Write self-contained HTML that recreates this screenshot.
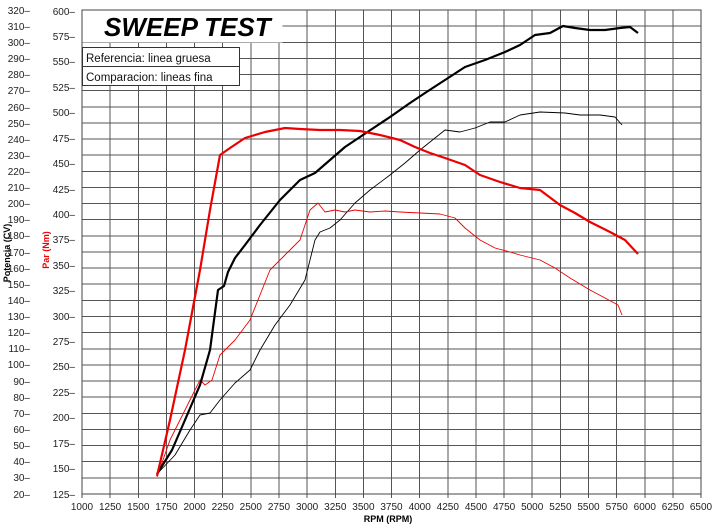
<!DOCTYPE html>
<html><head><meta charset="utf-8"><style>
body{margin:0;background:#fff;width:714px;height:529px;overflow:hidden}
svg{display:block}
text{font-family:"Liberation Sans",sans-serif;font-size:10px;fill:#222}
</style></head><body>
<svg width="714" height="529" viewBox="0 0 714 529">
<g stroke="#555" stroke-width="1" shape-rendering="crispEdges">
<line x1="82" y1="26.1" x2="701" y2="26.1"/><line x1="82" y1="42.3" x2="701" y2="42.3"/><line x1="82" y1="58.4" x2="701" y2="58.4"/><line x1="82" y1="74.5" x2="701" y2="74.5"/><line x1="82" y1="90.7" x2="701" y2="90.7"/><line x1="82" y1="106.8" x2="701" y2="106.8"/><line x1="82" y1="122.9" x2="701" y2="122.9"/><line x1="82" y1="139" x2="701" y2="139"/><line x1="82" y1="155.2" x2="701" y2="155.2"/><line x1="82" y1="171.3" x2="701" y2="171.3"/><line x1="82" y1="187.4" x2="701" y2="187.4"/><line x1="82" y1="203.6" x2="701" y2="203.6"/><line x1="82" y1="219.7" x2="701" y2="219.7"/><line x1="82" y1="235.8" x2="701" y2="235.8"/><line x1="82" y1="252" x2="701" y2="252"/><line x1="82" y1="268.1" x2="701" y2="268.1"/><line x1="82" y1="284.2" x2="701" y2="284.2"/><line x1="82" y1="300.4" x2="701" y2="300.4"/><line x1="82" y1="316.5" x2="701" y2="316.5"/><line x1="82" y1="332.6" x2="701" y2="332.6"/><line x1="82" y1="348.8" x2="701" y2="348.8"/><line x1="82" y1="364.9" x2="701" y2="364.9"/><line x1="82" y1="381" x2="701" y2="381"/><line x1="82" y1="397.2" x2="701" y2="397.2"/><line x1="82" y1="413.3" x2="701" y2="413.3"/><line x1="82" y1="429.4" x2="701" y2="429.4"/><line x1="82" y1="445.6" x2="701" y2="445.6"/><line x1="82" y1="461.7" x2="701" y2="461.7"/><line x1="82" y1="477.8" x2="701" y2="477.8"/>
<line x1="110.1" y1="10" x2="110.1" y2="498"/><line x1="138.3" y1="10" x2="138.3" y2="498"/><line x1="166.4" y1="10" x2="166.4" y2="498"/><line x1="194.6" y1="10" x2="194.6" y2="498"/><line x1="222.7" y1="10" x2="222.7" y2="498"/><line x1="250.8" y1="10" x2="250.8" y2="498"/><line x1="279" y1="10" x2="279" y2="498"/><line x1="307.1" y1="10" x2="307.1" y2="498"/><line x1="335.3" y1="10" x2="335.3" y2="498"/><line x1="363.4" y1="10" x2="363.4" y2="498"/><line x1="391.5" y1="10" x2="391.5" y2="498"/><line x1="419.7" y1="10" x2="419.7" y2="498"/><line x1="447.8" y1="10" x2="447.8" y2="498"/><line x1="476" y1="10" x2="476" y2="498"/><line x1="504.1" y1="10" x2="504.1" y2="498"/><line x1="532.2" y1="10" x2="532.2" y2="498"/><line x1="560.4" y1="10" x2="560.4" y2="498"/><line x1="588.5" y1="10" x2="588.5" y2="498"/><line x1="616.7" y1="10" x2="616.7" y2="498"/><line x1="644.8" y1="10" x2="644.8" y2="498"/><line x1="672.9" y1="10" x2="672.9" y2="498"/>
</g>
<rect x="82" y="10" width="619" height="484" fill="none" stroke="#444"/>
<line x1="82" y1="494" x2="82" y2="498" stroke="#444"/><line x1="701" y1="494" x2="701" y2="498" stroke="#444"/>
<rect x="82.5" y="10.5" width="200" height="32" fill="#fff"/>
<text x="104" y="36" style="font-size:26px;font-weight:bold;font-style:italic;fill:#000">SWEEP TEST</text>
<rect x="82.5" y="47.5" width="157" height="19" fill="#fff" stroke="#333"/>
<rect x="82.5" y="66.5" width="157" height="19" fill="#fff" stroke="#333"/>
<text x="86" y="62" style="font-size:11.5px;fill:#111">Referencia: linea gruesa</text>
<text x="86" y="81" style="font-size:11.5px;fill:#111">Comparacion: lineas fina</text>
<g fill="none" stroke-linejoin="round">
<polyline stroke="#000" stroke-width="0.9" points="157,474 175,455 190,430 200,415 210,413 220,400 235,383 250,370 260,350 275,325 290,305 305,280 315,240 320,232 330,228 340,220 355,203 370,190 390,175 405,163 420,150 435,138 445,130 460,132 475,128 490,122 505,122 520,115 540,112 565,113 580,115 600,115 615,117 622,125"/>
<polyline stroke="#e00" stroke-width="0.9" points="157,477 170,440 190,400 200,380 205,385 212,380 220,355 235,340 250,320 260,295 270,270 285,255 300,240 310,210 318,203 325,212 335,210 345,212 355,210 370,212 385,211 400,212 420,213 440,214 455,218 465,228 480,240 495,248 510,252 520,255 540,260 555,268 570,278 590,290 605,298 618,305 622,315"/>
<polyline stroke="#000" stroke-width="2.2" points="157,474 172,450 185,420 200,385 210,350 218,290 224,286 228,272 235,258 245,245 260,225 280,200 300,180 315,173 330,160 345,147 360,137 375,127 390,117 410,103 425,93 445,80 465,67 485,60 505,52 520,45 535,35 550,33 563,26 575,28 590,30 605,30 620,28 630,27 638,33"/>
<polyline stroke="#e00" stroke-width="2.2" points="157,476 170,420 185,350 200,270 210,210 220,155 230,148 245,138 265,132 285,128 300,129 320,130 340,130 360,131 380,135 400,140 415,147 430,153 445,158 465,165 480,175 500,182 520,188 540,190 560,205 575,213 590,222 610,232 625,240 638,254"/>
</g>
<g text-anchor="end">
<text x="30" y="14">320–</text><text x="30" y="30">310–</text><text x="30" y="46">300–</text><text x="30" y="62">290–</text><text x="30" y="78">280–</text><text x="30" y="94">270–</text><text x="30" y="111">260–</text><text x="30" y="127">250–</text><text x="30" y="143">240–</text><text x="30" y="159">230–</text><text x="30" y="175">220–</text><text x="30" y="191">210–</text><text x="30" y="207">200–</text><text x="30" y="223">190–</text><text x="30" y="239">180–</text><text x="30" y="256">170–</text><text x="30" y="272">160–</text><text x="30" y="288">150–</text><text x="30" y="304">140–</text><text x="30" y="320">130–</text><text x="30" y="336">120–</text><text x="30" y="352">110–</text><text x="30" y="368">100–</text><text x="30" y="385">90–</text><text x="30" y="401">80–</text><text x="30" y="417">70–</text><text x="30" y="433">60–</text><text x="30" y="449">50–</text><text x="30" y="465">40–</text><text x="30" y="481">30–</text><text x="30" y="498">20–</text>
<text x="75" y="15">600–</text><text x="75" y="40">575–</text><text x="75" y="65">550–</text><text x="75" y="91">525–</text><text x="75" y="116">500–</text><text x="75" y="142">475–</text><text x="75" y="167">450–</text><text x="75" y="193">425–</text><text x="75" y="218">400–</text><text x="75" y="243">375–</text><text x="75" y="269">350–</text><text x="75" y="294">325–</text><text x="75" y="320">300–</text><text x="75" y="345">275–</text><text x="75" y="370">250–</text><text x="75" y="396">225–</text><text x="75" y="421">200–</text><text x="75" y="447">175–</text><text x="75" y="472">150–</text><text x="75" y="498">125–</text>
</g>
<g text-anchor="middle">
<text x="82" y="510">1000</text><text x="110.1" y="510">1250</text><text x="138.3" y="510">1500</text><text x="166.4" y="510">1750</text><text x="194.6" y="510">2000</text><text x="222.7" y="510">2250</text><text x="250.8" y="510">2500</text><text x="279" y="510">2750</text><text x="307.1" y="510">3000</text><text x="335.3" y="510">3250</text><text x="363.4" y="510">3500</text><text x="391.5" y="510">3750</text><text x="419.7" y="510">4000</text><text x="447.8" y="510">4250</text><text x="476" y="510">4500</text><text x="504.1" y="510">4750</text><text x="532.2" y="510">5000</text><text x="560.4" y="510">5250</text><text x="588.5" y="510">5500</text><text x="616.7" y="510">5750</text><text x="644.8" y="510">6000</text><text x="672.9" y="510">6250</text><text x="701" y="510">6500</text>
<text x="388" y="522" style="font-weight:bold;font-size:9px;fill:#000">RPM (RPM)</text>
<text transform="translate(10,253) rotate(-90)" style="font-weight:bold;font-size:9px;fill:#000">Potencia (CV)</text>
<text transform="translate(49,250) rotate(-90)" style="font-weight:bold;font-size:9px;fill:#e00">Par (Nm)</text>
</g>
</svg>
</body></html>
